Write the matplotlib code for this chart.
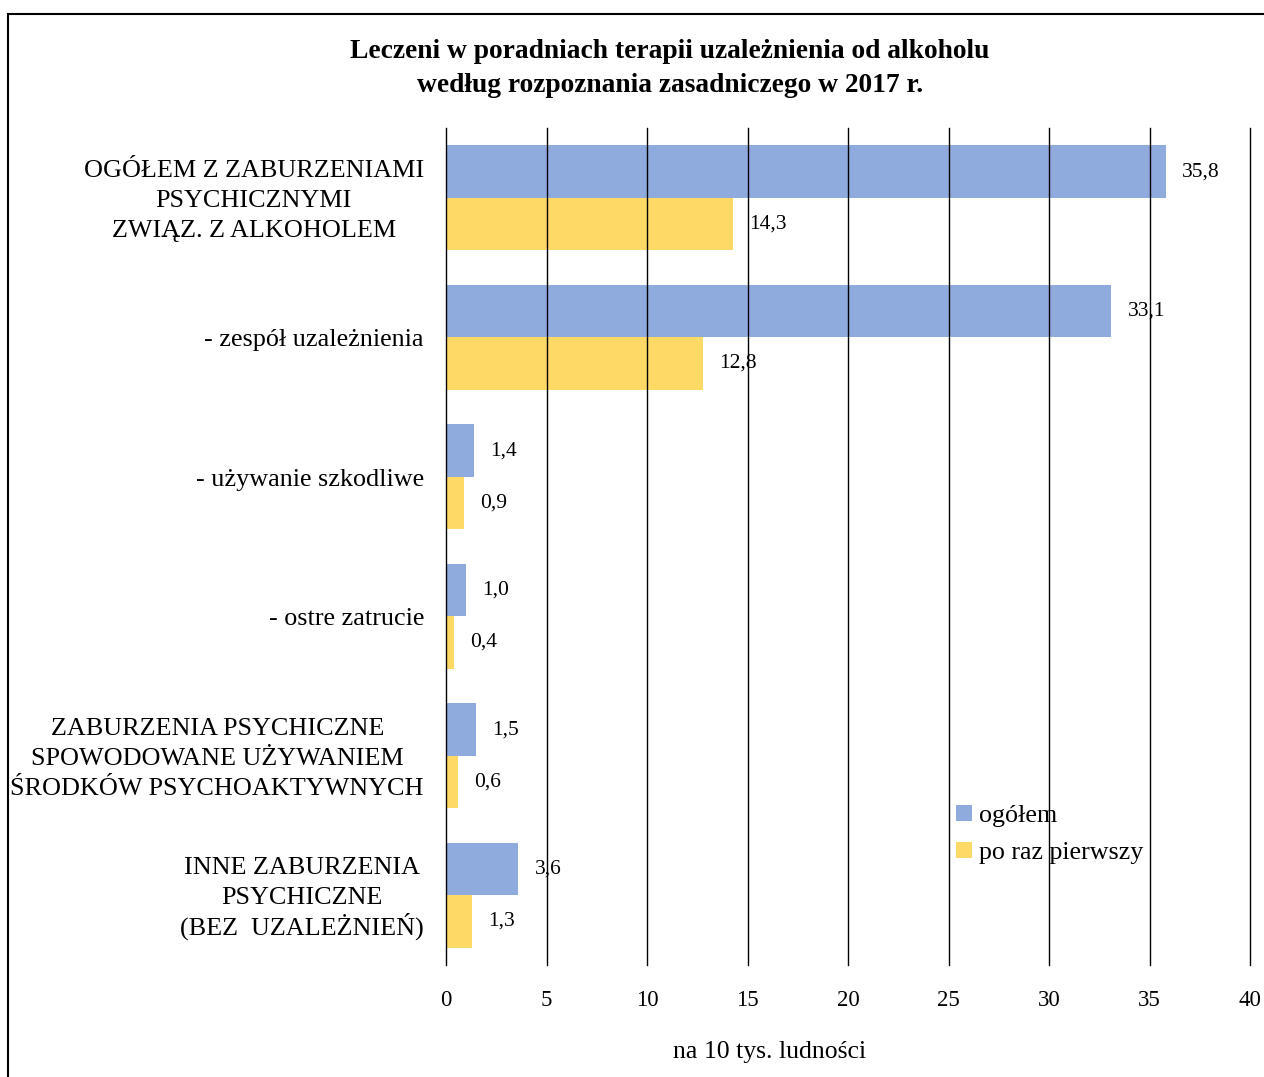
import matplotlib
matplotlib.use("Agg")
import matplotlib.pyplot as plt
import numpy as np
from matplotlib.patches import Rectangle
from matplotlib.transforms import offset_copy, blended_transform_factory

categories = [
    "OGÓŁEM Z ZABURZENIAMI\nPSYCHICZNYMI\nZWIĄZ. Z ALKOHOLEM",
    "- zespół uzależnienia",
    "- używanie szkodliwe",
    "- ostre zatrucie",
    "ZABURZENIA PSYCHICZNE\nSPOWODOWANE UŻYWANIEM\nŚRODKÓW PSYCHOAKTYWNYCH",
    "INNE ZABURZENIA\nPSYCHICZNE\n(BEZ  UZALEŻNIEŃ)",
]
ogolem = [35.8, 33.1, 1.4, 1.0, 1.5, 3.6]
pierwszy = [14.3, 12.8, 0.9, 0.4, 0.6, 1.3]
series_names = ["ogółem", "po raz pierwszy"]
xticks = [0, 5, 10, 15, 20, 25, 30, 35, 40]
title_lines = ["Leczeni w poradniach terapii uzależnienia od alkoholu",
               "według rozpoznania zasadniczego w 2017 r."]
xlabel = "na 10 tys. ludności"

plt.rcParams['font.family'] = ['Liberation Serif', 'DejaVu Serif']

W, H = 1264, 1077
fig = plt.figure(figsize=(W/100, H/100), dpi=100)
ax = fig.add_axes([446/W, 1-965/H, (1250-446)/W, (965-128)/H])

n = len(categories)
y = np.arange(n)
bh = 0.375
blue = "#8FAADC"
yellow = "#FFD966"
ax.barh(y - bh/2, ogolem, height=bh, color=blue, label=series_names[0], zorder=1)
ax.barh(y + bh/2, pierwszy, height=bh, color=yellow, label=series_names[1], zorder=1)
ax.set_ylim(n - 0.5, -0.5)
ax.set_xlim(0, 40)
ax.set_xticks(xticks)
ax.set_xticklabels([str(t) for t in xticks], fontsize=16.5)
ax.xaxis.grid(True, color="black", linewidth=1, zorder=2)
for gl in ax.get_xgridlines():
    gl.set_clip_on(False)
ax.set_axisbelow(False)
ax.tick_params(axis='x', length=0, pad=18)
ax.set_yticks([])
for s in ax.spines.values():
    s.set_visible(False)

# category labels: block right-aligned, lines centered within block
trans = blended_transform_factory(ax.transAxes, ax.transData)
renderer = fig.canvas.get_renderer()
line_px = 30
for i, cat in enumerate(categories):
    lines = cat.split("\n")
    m = len(lines)
    tmp = [ax.text(0, 0, ln, fontsize=18.8) for ln in lines]
    widths = [t.get_window_extent(renderer).width for t in tmp]
    for t in tmp:
        t.remove()
    wmax = max(widths)
    for k, ln in enumerate(lines):
        dy = -(k - (m - 1) / 2) * line_px - 9
        tr = offset_copy(trans, fig=fig, x=-22 - wmax / 2, y=dy, units='dots')
        ax.text(0, y[i], ln, transform=tr, ha='center', va='baseline', fontsize=18.8)

def fmt(v):
    return f"{v:.1f}".replace(".", ",")

for i in range(n):
    ax.text(ogolem[i] + 0.8, y[i] - bh/2, fmt(ogolem[i]), va='center', ha='left', fontsize=15.5, zorder=3)
    ax.text(pierwszy[i] + 0.8, y[i] + bh/2, fmt(pierwszy[i]), va='center', ha='left', fontsize=15.5, zorder=3)

fig.text(770/W, 1-1052/H, xlabel, ha='center', va='center', fontsize=18.5)

leg = ax.legend(loc='upper left', bbox_to_anchor=((956-446)/(1250-446), 1-(805-128)/(965-128)),
                frameon=False, fontsize=18.7, handlelength=0.6, handleheight=0.6,
                handletextpad=0.3, labelspacing=0.55, borderaxespad=0, borderpad=0)

fig.text(670/W, 1-52/H, title_lines[0], ha='center', va='center', fontsize=19.8, fontweight='bold')
fig.text(670/W, 1-85/H, title_lines[1], ha='center', va='center', fontsize=19.8, fontweight='bold')

fig.patches.append(Rectangle((8/W, -0.01), 1.0, 1-14/H+0.01, transform=fig.transFigure,
                             fill=False, edgecolor='black', linewidth=1.5))

fig.savefig("out.png", dpi=100)
